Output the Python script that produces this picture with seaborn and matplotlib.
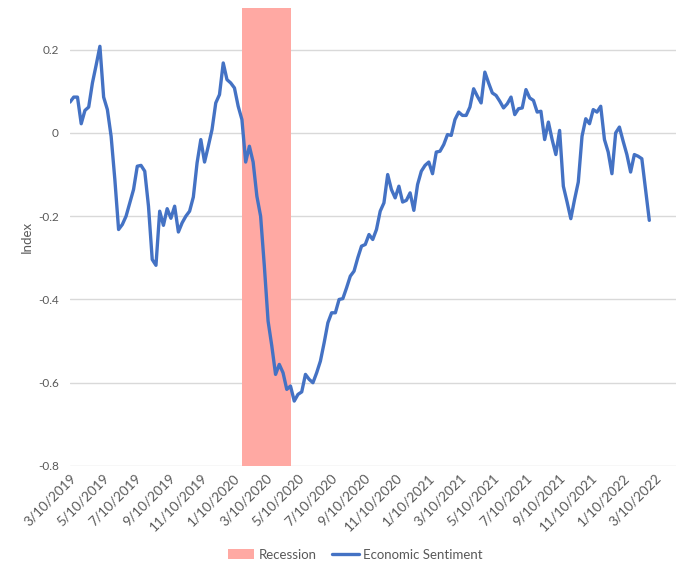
import matplotlib
matplotlib.use("Agg")
import matplotlib.pyplot as plt
import matplotlib.dates as mdates
from matplotlib.patches import Patch
from matplotlib.lines import Line2D
import numpy as np
import pandas as pd
import seaborn as sns

# ---- data ----
start_date = "2019-03-10"
sentiment = [
    0.074, 0.086, 0.086, 0.022, 0.054, 0.062, 0.12, 0.163, 0.208, 0.086,
    0.056, -0.008, -0.112, -0.232, -0.22, -0.2, -0.168, -0.136, -0.08, -0.078,
    -0.092, -0.176, -0.304, -0.318, -0.188, -0.222, -0.182, -0.205, -0.176, -0.238,
    -0.216, -0.2, -0.188, -0.154, -0.072, -0.016, -0.07, -0.032, 0.008, 0.072,
    0.092, 0.168, 0.128, 0.12, 0.108, 0.064, 0.032, -0.07, -0.032, -0.07,
    -0.152, -0.2, -0.32, -0.452, -0.512, -0.58, -0.556, -0.576, -0.616, -0.608,
    -0.644, -0.628, -0.622, -0.58, -0.592, -0.6, -0.576, -0.548, -0.504, -0.456,
    -0.432, -0.432, -0.4, -0.398, -0.372, -0.344, -0.332, -0.3, -0.272, -0.268,
    -0.244, -0.256, -0.232, -0.188, -0.168, -0.1, -0.136, -0.156, -0.128, -0.166,
    -0.162, -0.144, -0.186, -0.124, -0.092, -0.078, -0.07, -0.098, -0.046, -0.044,
    -0.028, -0.004, -0.006, 0.032, 0.05, 0.042, 0.042, 0.062, 0.106, 0.088,
    0.072, 0.146, 0.12, 0.096, 0.09, 0.076, 0.06, 0.07, 0.086, 0.044,
    0.058, 0.06, 0.104, 0.084, 0.078, 0.05, 0.052, -0.016, 0.026, -0.016,
    -0.052, 0.006, -0.128, -0.166, -0.206, -0.16, -0.118, -0.008, 0.034, 0.022,
    0.056, 0.05, 0.064, -0.016, -0.046, -0.098, 0.0, 0.014, -0.02, -0.052,
    -0.094, -0.052, -0.056, -0.062, -0.136, -0.21,
]
dates = pd.date_range(start_date, periods=len(sentiment), freq="7D")

recession_start = "2020-01-26"
recession_end = "2020-04-26"

tick_labels = [
    "3/10/2019", "5/10/2019", "7/10/2019", "9/10/2019", "11/10/2019",
    "1/10/2020", "3/10/2020", "5/10/2020", "7/10/2020", "9/10/2020",
    "11/10/2020", "1/10/2021", "3/10/2021", "5/10/2021", "7/10/2021",
    "9/10/2021", "11/10/2021", "1/10/2022", "3/10/2022",
]
y_ticks = [-0.8, -0.6, -0.4, -0.2, 0, 0.2]
y_tick_labels = ["-0.8", "-0.6", "-0.4", "-0.2", "0", "0.2"]

df = pd.DataFrame({"Date": dates, "Economic Sentiment": sentiment})

# ---- style ----
sns.set_theme(style="white")
plt.rcParams["font.family"] = ["Lato", "DejaVu Sans"]

line_color = "#4472C4"
rec_color = "#FFA9A3"
text_color = "#595959"
grid_color = "#D9D9D9"

fig = plt.figure(figsize=(6.83, 5.69), dpi=100)
ax = fig.add_axes([70 / 683, 1 - 466 / 569, (676 - 70) / 683, (466 - 8) / 569])

ax.axvspan(pd.Timestamp(recession_start), pd.Timestamp(recession_end),
           color=rec_color, lw=0, zorder=1)
sns.lineplot(data=df, x="Date", y="Economic Sentiment", ax=ax,
             color=line_color, lw=2.4, zorder=3)

ax.set_ylim(-0.8, 0.3)
ax.set_xlim(pd.Timestamp("2019-03-10"), pd.Timestamp("2022-04-18"))
ax.set_yticks(y_ticks)
ax.set_yticklabels(y_tick_labels)
ax.yaxis.grid(True, color=grid_color, lw=1, zorder=0)
ax.set_axisbelow(True)

tick_dates = [pd.Timestamp(pd.to_datetime(t, format="%m/%d/%Y")) for t in tick_labels]
ax.set_xticks(tick_dates)
ax.set_xticklabels(tick_labels, rotation=45, ha="right", rotation_mode="anchor")

for s in ax.spines.values():
    s.set_visible(False)
ax.tick_params(axis="both", length=0, colors=text_color)
ax.tick_params(axis="y", pad=8, labelsize=8.5)
ax.tick_params(axis="x", pad=4, labelsize=9.8)
ax.set_xlabel("")
ax.set_ylabel("Index", fontsize=9.5, color=text_color, labelpad=4)

handles = [Patch(facecolor=rec_color, edgecolor="none"),
           Line2D([0], [0], color=line_color, lw=2.4)]
fig.legend(handles, ["Recession", "Economic Sentiment"], loc="lower center",
           bbox_to_anchor=(0.52, -0.006), ncol=2, frameon=False,
           fontsize=9.5, labelcolor=text_color, handlelength=2.0,
           columnspacing=1.2, handletextpad=0.3)

fig.savefig("out.png", dpi=100)
